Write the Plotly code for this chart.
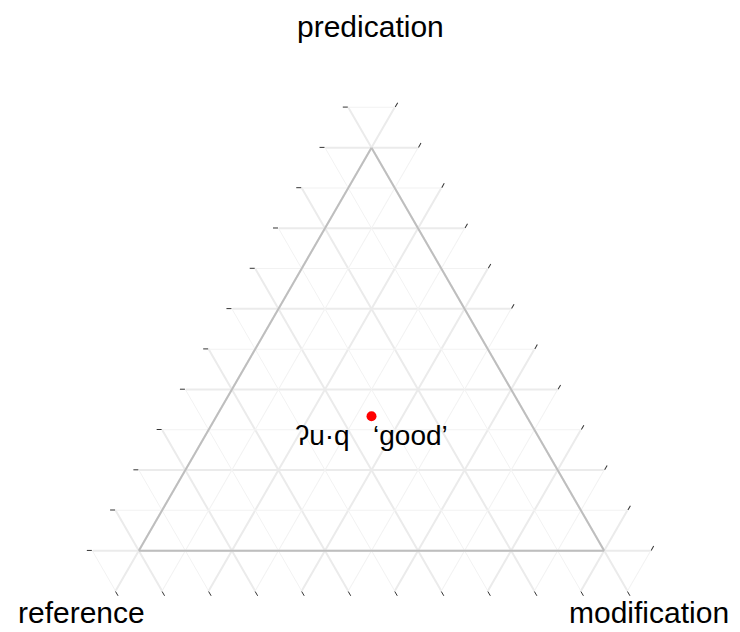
import plotly.graph_objects as go

# one word placed by its share of each function
words = ['ʔu·q\u00a0\u00a0\u00a0‘good’']
predication = [1 / 3]
reference = [1 / 3]
modification = [1 / 3]

grid_major = [0.0, 0.2, 0.4, 0.6, 0.8, 1.0]
grid_minor = [0.1, 0.3, 0.5, 0.7, 0.9, 1.1]

# ggtern-like: the grid runs one step past the triangle on every side
pad = 0.1
span = 1 + 3 * pad

W, H = 740, 632
L, R, T, B = 61, 74, 59, 49
BODY = 8   # page margin around the figure in the browser
FONT = 'Liberation Sans, Arial, sans-serif'


def paper(x, y):
    # screen pixel -> paper coordinates
    return (x - BODY - L) / (W - L - R), (H - B - y) / (H - T - B)


def grid_axis(vals, color, width):
    return dict(tickmode='array', tickvals=[v + pad for v in vals],
                showticklabels=False, ticks='outside', ticklen=5,
                tickcolor='#333333', tickwidth=0.8,
                showgrid=True, gridcolor=color, gridwidth=width,
                showline=False, title=dict(text=''))


def frame_axis():
    return dict(showgrid=False, showticklabels=False, ticks='',
                showline=True, linecolor='#bebebe', linewidth=2,
                title=dict(text=''))


fig = go.Figure()
for sp in ['ternary', 'ternary2']:
    fig.add_trace(go.Scatterternary(a=[], b=[], c=[], subplot=sp,
                                    hoverinfo='skip', showlegend=False))

fig.add_trace(go.Scatterternary(
    a=predication, b=reference, c=modification, subplot='ternary3',
    mode='markers+text', text=words, textposition='bottom center',
    textfont=dict(family=FONT, size=28, color='black'),
    marker=dict(color='#ff0000', size=10), showlegend=False))

inner_x = [1.5 * pad / span, 1 - 1.5 * pad / span]
inner_y = [pad / span, (1 + pad) / span]

fig.update_layout(
    width=W, height=H,
    margin=dict(l=L, r=R, t=T, b=B),
    paper_bgcolor='white',
    font=dict(family=FONT),
    ternary=dict(sum=span, bgcolor='white',
                 domain=dict(x=[0, 1], y=[0, 1]),
                 aaxis=grid_axis(grid_major, '#ebebeb', 2),
                 baxis=grid_axis(grid_major, '#ebebeb', 2),
                 caxis=grid_axis(grid_major, '#ebebeb', 2)),
    ternary2=dict(sum=span, bgcolor='rgba(0,0,0,0)',
                  domain=dict(x=[0, 1], y=[0, 1]),
                  aaxis=grid_axis(grid_minor, '#f2f2f2', 1),
                  baxis=grid_axis(grid_minor, '#f2f2f2', 1),
                  caxis=grid_axis(grid_minor, '#f2f2f2', 1)),
    ternary3=dict(sum=1, bgcolor='rgba(0,0,0,0)',
                  domain=dict(x=inner_x, y=inner_y),
                  aaxis=frame_axis(), baxis=frame_axis(), caxis=frame_axis()),
)

titles = [('predication', 370, 18), ('reference', 81, 604), ('modification', 649, 604)]
for text, x, y in titles:
    xp, yp = paper(x, y)
    fig.add_annotation(text=text, x=xp, y=yp, xref='paper', yref='paper',
                       xanchor='center', yanchor='middle', showarrow=False,
                       font=dict(family=FONT, size=30, color='black'))

fig.write_html('out.html')
